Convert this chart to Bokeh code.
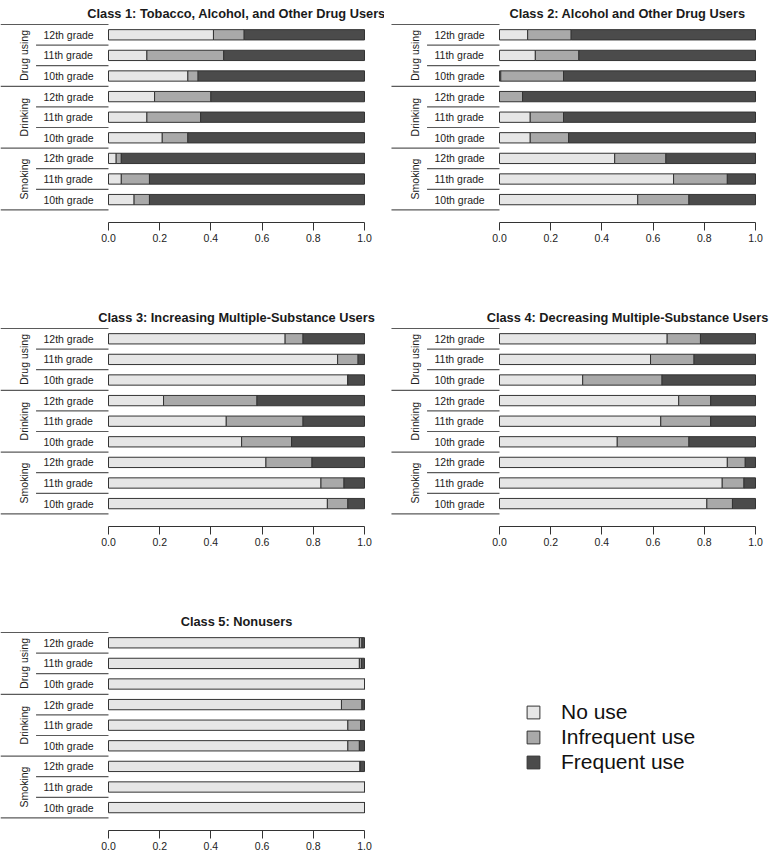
import math
from bokeh.plotting import figure
from bokeh.models import (ColumnDataSource, Range1d, FixedTicker, PrintfTickFormatter,
                          Legend, LegendItem)
from bokeh.layouts import row, column
from bokeh.core.properties import value
from bokeh.embed import file_html
from bokeh.resources import INLINE

# ---------------- data ----------------
groups = ["Drug using", "Drinking", "Smoking"]
grades = ["12th grade", "11th grade", "10th grade"]
use_levels = ["No use", "Infrequent use", "Frequent use"]
x_ticks = [0.0, 0.2, 0.4, 0.6, 0.8, 1.0]

titles = [
    "Class 1: Tobacco, Alcohol, and Other Drug Users",
    "Class 2: Alcohol and Other Drug Users",
    "Class 3: Increasing Multiple-Substance Users",
    "Class 4: Decreasing Multiple-Substance Users",
    "Class 5: Nonusers",
]

# row order: Drug using 12/11/10, Drinking 12/11/10, Smoking 12/11/10
class1_no = [0.41, 0.15, 0.31, 0.18, 0.15, 0.21, 0.03, 0.05, 0.10]
class1_inf = [0.12, 0.30, 0.04, 0.22, 0.21, 0.10, 0.02, 0.11, 0.06]
class1_frq = [0.47, 0.55, 0.65, 0.60, 0.64, 0.69, 0.95, 0.84, 0.84]

class2_no = [0.11, 0.14, 0.005, 0.0, 0.12, 0.12, 0.45, 0.68, 0.54]
class2_inf = [0.17, 0.17, 0.245, 0.09, 0.13, 0.15, 0.20, 0.21, 0.20]
class2_frq = [0.72, 0.69, 0.75, 0.91, 0.75, 0.73, 0.35, 0.11, 0.26]

class3_no = [0.69, 0.895, 0.935, 0.215, 0.46, 0.52, 0.615, 0.83, 0.855]
class3_inf = [0.07, 0.08, 0.0, 0.365, 0.30, 0.195, 0.18, 0.09, 0.08]
class3_frq = [0.24, 0.025, 0.065, 0.42, 0.24, 0.285, 0.205, 0.08, 0.065]

class4_no = [0.655, 0.59, 0.325, 0.70, 0.63, 0.46, 0.89, 0.87, 0.81]
class4_inf = [0.13, 0.17, 0.31, 0.125, 0.195, 0.28, 0.07, 0.085, 0.10]
class4_frq = [0.215, 0.24, 0.365, 0.175, 0.175, 0.26, 0.04, 0.045, 0.09]

class5_no = [0.98, 0.98, 1.0, 0.91, 0.935, 0.935, 0.983, 1.0, 1.0]
class5_inf = [0.01, 0.008, 0.0, 0.08, 0.05, 0.045, 0.0, 0.0, 0.0]
class5_frq = [0.01, 0.012, 0.0, 0.01, 0.015, 0.02, 0.017, 0.0, 0.0]

# ---------------- style / layout ----------------
COLORS = ["#e6e6e6", "#a9a9a9", "#4b4b4b"]
EDGE = "#333333"
SEP = "#5a5a5a"
FONT = "Liberation Sans"
PX_X = 256.0      # frame pixels per unit of x
ROW_PX = 20.6     # pixels per row
FRAME_H = 222
FIRST_ROW = 34.3  # px from frame top to first bar centre
TITLE_PX = 12.5   # px from frame top to title centre


def make_panel(title, no, inf, frq, width, left_px, height, bottom):
    x0 = -left_px / PX_X
    x1 = (width - left_px) / PX_X
    y_top = -FIRST_ROW / ROW_PX
    y_bot = (FRAME_H - FIRST_ROW) / ROW_PX
    p = figure(width=width, height=height,
               x_range=Range1d(x0, x1), y_range=Range1d(y_bot, y_top),
               output_backend="svg", toolbar_location=None,
               y_axis_location=None, x_axis_location="below",
               min_border_left=0, min_border_right=0, min_border_top=0,
               min_border_bottom=bottom)
    p.grid.visible = False
    p.outline_line_color = None
    p.background_fill_color = "white"

    n_rows = len(groups) * len(grades)
    rows = list(range(n_rows))
    src = ColumnDataSource(dict(y=rows, no=no, inf=inf, frq=frq))
    p.hbar_stack(["no", "inf", "frq"], y="y", height=0.5, source=src,
                 fill_color=COLORS, line_color=EDGE, line_width=1)

    # grade labels
    lab = ColumnDataSource(dict(
        x=[-0.254] * n_rows, y=rows,
        t=[grades[i % len(grades)] for i in rows]))
    p.text(x="x", y="y", text="t", source=lab, text_align="left",
           text_baseline="middle", text_font=value(FONT),
           text_font_size="10.5px", text_color="#222222")

    # group labels (rotated)
    gl = ColumnDataSource(dict(
        x=[-0.332] * len(groups),
        y=[g * len(grades) + (len(grades) - 1) / 2 for g in range(len(groups))],
        t=groups))
    p.text(x="x", y="y", text="t", source=gl, angle=math.pi / 2,
           text_align="center", text_baseline="middle",
           text_font=value(FONT), text_font_size="10.5px", text_color="#222222")

    # separator lines
    gx0 = max(-0.422, x0)
    gy = [g * len(grades) - 0.5 for g in range(len(groups) + 1)]
    p.segment(x0=[gx0] * len(gy), x1=[0] * len(gy), y0=gy, y1=gy,
              line_color=SEP, line_width=1.2)
    sy = [g * len(grades) + k + 0.5 for g in range(len(groups))
          for k in range(len(grades) - 1)]
    p.segment(x0=[-0.283] * len(sy), x1=[0] * len(sy), y0=sy, y1=sy,
              line_color=SEP, line_width=1.2)

    # title
    p.text(x=[0.5], y=[y_top + TITLE_PX / ROW_PX], text=[title], text_align="center",
           text_baseline="middle", text_font=value(FONT),
           text_font_style="bold", text_font_size="12.8px", text_color="#1a1a1a")

    ax = p.xaxis[0]
    ax.ticker = FixedTicker(ticks=x_ticks)
    ax.formatter = PrintfTickFormatter(format="%.1f")
    ax.bounds = (0, 1)
    ax.major_tick_in = 0
    ax.major_tick_out = 8
    ax.minor_tick_line_color = None
    ax.axis_line_color = EDGE
    ax.major_tick_line_color = EDGE
    ax.major_label_standoff = 3
    ax.major_label_text_font = FONT
    ax.major_label_text_font_size = "10.5px"
    ax.major_label_text_color = "#222222"
    return p


W1, W2 = 384, 385
L1, L2 = 108, 115
H1, H2, H3 = 304, 304, 251

data = [
    (class1_no, class1_inf, class1_frq),
    (class2_no, class2_inf, class2_frq),
    (class3_no, class3_inf, class3_frq),
    (class4_no, class4_inf, class4_frq),
    (class5_no, class5_inf, class5_frq),
]

p1 = make_panel(titles[0], *data[0], W1, L1, H1, H1 - FRAME_H)
p2 = make_panel(titles[1], *data[1], W2, L2, H1, H1 - FRAME_H)
p3 = make_panel(titles[2], *data[2], W1, L1, H2, H2 - FRAME_H)
p4 = make_panel(titles[3], *data[3], W2, L2, H2, H2 - FRAME_H)
p5 = make_panel(titles[4], *data[4], W1, L1, H3, H3 - FRAME_H)

# legend panel
lp = figure(width=W2, height=H3, x_range=Range1d(0, 1), y_range=Range1d(0, 1),
            output_backend="svg", toolbar_location=None,
            x_axis_location=None, y_axis_location=None, min_border=0)
lp.grid.visible = False
lp.outline_line_color = None
items = []
for name, c in zip(use_levels, COLORS):
    # placeholder point outside the visible range; only its legend swatch is seen
    r = lp.vbar(x=[5], top=[5], bottom=[4], width=0.1, fill_color=c,
                line_color=EDGE, line_width=1)
    items.append(LegendItem(label=name, renderers=[r]))
leg = Legend(items=items, location=(141, 56), glyph_width=16, glyph_height=16,
             label_height=16, label_standoff=20, spacing=1, padding=0, margin=0,
             label_text_font=FONT, label_text_font_size="21px",
             label_text_color="#111111",
             border_line_color=None, background_fill_alpha=0)
lp.add_layout(leg)

layout = column(row(p1, p2), row(p3, p4), row(p5, lp))

open("out.html", "w").write(file_html(layout, INLINE))
